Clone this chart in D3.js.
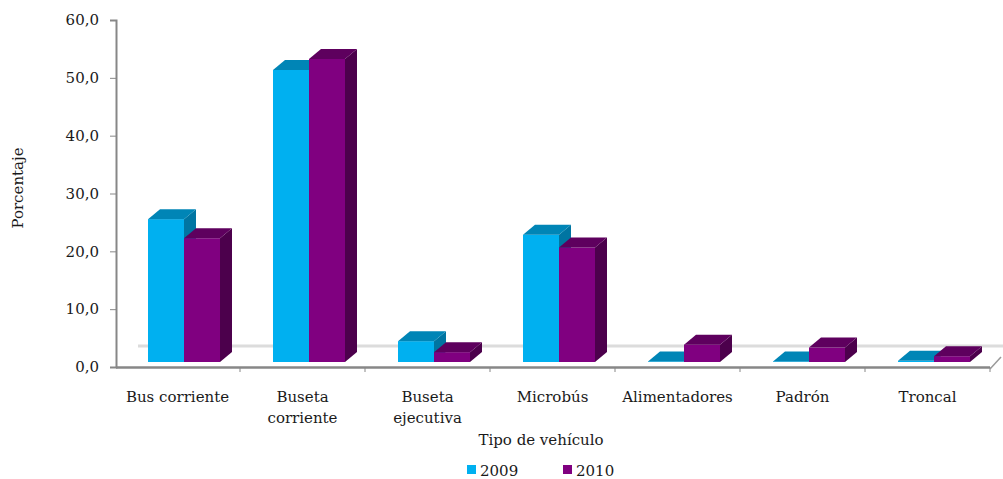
<!DOCTYPE html>
<html>
<head>
<meta charset="utf-8">
<script src="https://cdn.jsdelivr.net/npm/d3@7"></script>
<style>
  body { margin: 0; background: #fff; }
  text { font-family: "DejaVu Serif", serif; fill: #1a1a1a; }
</style>
</head>
<body>
<svg id="chart"></svg>
<script>
// data
const categories = ["Bus corriente", "Buseta corriente", "Buseta ejecutiva", "Microbús", "Alimentadores", "Padrón", "Troncal"];
const years = ["2009", "2010"];
const values2009 = [24.7, 50.5, 3.6, 22.0, 0.1, 0.1, 0.2];
const values2010 = [21.4, 52.4, 1.7, 19.8, 3.0, 2.5, 1.0];
const yTicks = [0, 10, 20, 30, 40, 50, 60];

var width = 1003
var height = 479

var svg = d3.select("#chart")
  .attr("width", width)
  .attr("height", height)

// colours: front, top, side
var colors = {
  "2009": ["#00b0f0", "#0085b6", "#0075a2"],
  "2010": ["#800080", "#5e005e", "#4c004c"]
}

var y = d3.scaleLinear().domain([0, 60]).range([367, 20])
// bars stand a little behind the front axis line
var yBar = y.copy().range([362, 15])
var depthX = 12, depthY = 10

var x0 = d3.scaleBand().domain(categories).range([115, 990])
var x1 = d3.scaleBand().domain(years).range([33, 105])

// back edge of the floor
svg.append("line")
  .attr("x1", 138).attr("x2", 1003)
  .attr("y1", 346).attr("y2", 346)
  .attr("stroke", "#dcdcdc")
  .attr("stroke-width", 3)

// y axis
var yAxis = d3.axisLeft(y)
  .tickValues(yTicks)
  .tickSize(6)
  .tickPadding(11)
  .tickFormat(d => d3.format(".1f")(d).replace(".", ","))

var gy = svg.append("g")
  .attr("transform", "translate(116,0)")
  .call(yAxis)
gy.select(".domain").attr("stroke", "#878787").attr("stroke-width", 2)
gy.selectAll(".tick line").attr("stroke", "#878787")
gy.selectAll(".tick text").style("font-size", "15px").attr("fill", "#1a1a1a")

// x axis line with ticks at the category boundaries
var xAxisG = svg.append("g")
xAxisG.append("line")
  .attr("x1", 116).attr("x2", 990)
  .attr("y1", 367.5).attr("y2", 367.5)
  .attr("stroke", "#878787").attr("stroke-width", 2.5)
xAxisG.selectAll("line.tick")
  .data(categories)
  .enter()
  .append("line")
  .attr("class", "tick")
  .attr("x1", d => x0(d) + x0.bandwidth())
  .attr("x2", d => x0(d) + x0.bandwidth())
  .attr("y1", 367).attr("y2", 372)
  .attr("stroke", "#878787")
// slanted right end of the floor
xAxisG.append("line")
  .attr("x1", 990).attr("y1", 369)
  .attr("x2", 1001).attr("y2", 357)
  .attr("stroke", "#9a9a9a").attr("stroke-width", 1.5)

// build the 3d bars
var barData = []
categories.forEach(function(c, i) {
  barData.push({cat: c, year: "2009", value: values2009[i]})
  barData.push({cat: c, year: "2010", value: values2010[i]})
})

var bars = svg.selectAll("g.bar")
  .data(barData)
  .enter()
  .append("g")
  .attr("class", "bar")

function facePts(d) {
  var xl = x0(d.cat) + x1(d.year)
  var xr = xl + x1.bandwidth()
  var top = yBar(d.value)
  var base = yBar(0)
  return {xl: xl, xr: xr, top: top, base: base}
}

// front face
bars.append("rect")
  .attr("x", d => facePts(d).xl)
  .attr("y", d => facePts(d).top)
  .attr("width", x1.bandwidth())
  .attr("height", d => facePts(d).base - facePts(d).top)
  .attr("fill", d => colors[d.year][0])

// side face
bars.append("polygon")
  .attr("points", function(d) {
    var p = facePts(d)
    return [[p.xr, p.top], [p.xr + depthX, p.top - depthY], [p.xr + depthX, p.base - depthY], [p.xr, p.base]].join(" ")
  })
  .attr("fill", d => colors[d.year][2])

// top face
bars.append("polygon")
  .attr("points", function(d) {
    var p = facePts(d)
    return [[p.xl, p.top], [p.xl + depthX, p.top - depthY], [p.xr + depthX, p.top - depthY], [p.xr, p.top]].join(" ")
  })
  .attr("fill", d => colors[d.year][1])

// category labels, wrapped like the original
var labelLines = {
  "Buseta corriente": ["Buseta", "corriente"],
  "Buseta ejecutiva": ["Buseta", "ejecutiva"]
}
var labels = svg.selectAll("text.cat")
  .data(categories)
  .enter()
  .append("text")
  .attr("class", "cat")
  .attr("text-anchor", "middle")
  .style("font-size", "15px")
labels.each(function(d) {
  var lines = labelLines[d] || [d]
  var t = d3.select(this)
  lines.forEach(function(l, k) {
    t.append("tspan")
      .attr("x", x0(d) + x0.bandwidth() / 2)
      .attr("y", 402 + k * 21)
      .text(l)
  })
})

// axis titles
svg.append("text")
  .attr("x", 541)
  .attr("y", 445)
  .attr("text-anchor", "middle")
  .style("font-size", "15px")
  .text("Tipo de vehículo")

svg.append("text")
  .attr("transform", "translate(23,188) rotate(-90)")
  .attr("text-anchor", "middle")
  .style("font-size", "15px")
  .text("Porcentaje")

// legend
var legendX = d3.scaleOrdinal().domain(years).range([467, 563])
var legend = svg.selectAll("g.legend")
  .data(years)
  .enter()
  .append("g")
  .attr("class", "legend")
  .attr("transform", d => "translate(" + legendX(d) + ",465)")
legend.append("rect")
  .attr("width", 9).attr("height", 9)
  .attr("fill", d => colors[d][0])
legend.append("text")
  .attr("x", 13)
  .attr("y", 11)
  .style("font-size", "15px")
  .text(d => d)
</script>
</body>
</html>
